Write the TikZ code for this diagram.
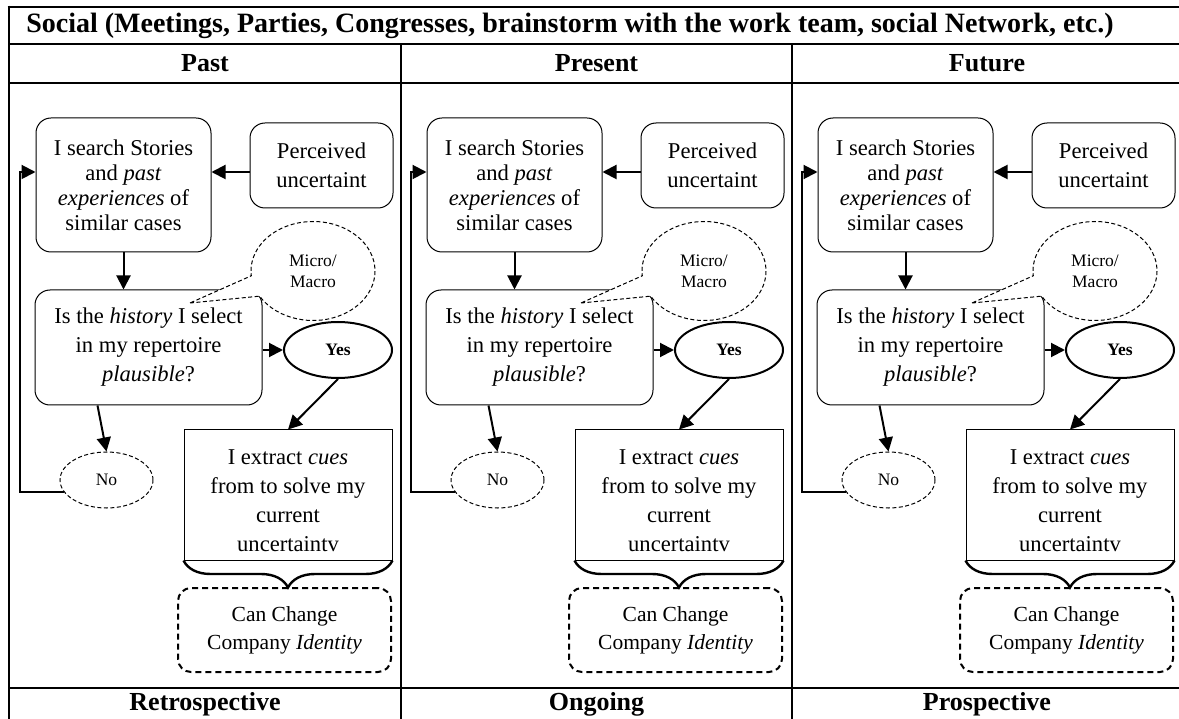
\documentclass[tikz,border=0pt]{standalone}
\usepackage{fontspec}
\setmainfont{Liberation Serif}
\usetikzlibrary{arrows.meta,shapes.geometric,shapes.callouts,decorations.pathreplacing}

\tikzset{
  rule/.style={line width=2.6pt},
  headtext/.style={font=\bfseries\fontsize{26}{30}\selectfont, inner sep=0pt},
  btext/.style={font=\fontsize{22.6}{29}\selectfont, align=center, inner sep=0pt},
  tighttext/.style={font=\fontsize{22.6}{25}\selectfont, align=center, inner sep=0pt},
  smalltext/.style={font=\fontsize{17.5}{21}\selectfont, align=center, inner sep=0pt},
  roundbox/.style={draw, line width=1pt, rounded corners=15pt},
  plainbox/.style={draw, line width=1pt},
  outcome/.style={draw, dash pattern=on 6pt off 4pt, line width=2pt, rounded corners=13pt},
  yesnode/.style={ellipse, draw, line width=2pt, smalltext, font=\bfseries\fontsize{17.5}{21}\selectfont},
  nonode/.style={ellipse, draw, dash pattern=on 4pt off 2.5pt, line width=1pt, smalltext},
  bubble/.style={ellipse callout, draw, dash pattern=on 4pt off 2.5pt, line width=1pt, fill=white,
    callout pointer arc=25, smalltext},
  flow/.style={line width=2pt, line join=miter, -{Triangle[length=14pt,width=14pt]}},
  bracebelow/.style={decorate, decoration={brace, mirror, amplitude=27pt}, line width=2.4pt},
}

% One sensemaking flow; #1 = name prefix, #2 = horizontal offset of the column
\newcommand{\flowpanel}[2]{%
\begin{scope}[xshift=#2]
  \coordinate (#1r) at (20,172);
  \coordinate (#1t) at (190,303);
  \node[roundbox, tighttext, minimum width=175, minimum height=134] (#1s) at (123.5,185)
    {I search Stories\\and \textit{past}\\\textit{experiences} of\\similar cases};
  \node[roundbox, btext, minimum width=143, minimum height=85] (#1p) at (321.5,165.5)
    {Perceived\\uncertaint};
  \node[roundbox, btext, minimum width=227, minimum height=115] (#1h) at (148.5,347.5)
    {Is the \textit{history} I select\\in my repertoire\\\textit{plausible}?};
  \node[bubble, minimum width=124, minimum height=99, callout absolute pointer={(#1t)}] (#1m)
    at (313,271) {Micro/\\Macro};
  \node[yesnode, minimum width=108, minimum height=56] (#1y) at (338,350) {Yes};
  \node[nonode, minimum width=93, minimum height=56] (#1n) at (106.5,480) {No};
  \node[plainbox, minimum width=208, minimum height=130] (#1x) at (288,495) {};
  \node[btext] (#1xt) at (288,501)
    {I extract \textit{cues}\\from to solve my\\current\\uncertaintv};
  \node[outcome, btext, font=\fontsize{21.5}{28}\selectfont, minimum width=213, minimum height=84] (#1c)
    at (284.5,630) {Can Change\\Company \textit{Identity}};
  % connectors
  \draw[flow] (#1p.west |- #1r) -- (#1s.east |- #1r);
  \draw[flow] (#1s.south) -- (#1s.south |- #1h.north);
  \draw[flow] (#1h.east |- #1y) -- (#1y.west);
  \draw[flow] (#1y.south) -- (#1x.north);
  \draw[flow] (#1h.south west) ++(63,0) coordinate (#1hn) -- (#1n.north);
  \draw[flow] (#1n.195) -| (#1r) -- (#1s.west |- #1r);
  \draw[bracebelow] (#1x.south west) -- (#1x.south east);
\end{scope}}

\begin{document}
\begin{tikzpicture}[x=1pt,y=-1pt]
  \useasboundingbox (0,0) rectangle (1179,719);
  \fill[white] (0,0) rectangle (1179,719);

  % table frame
  \draw[rule] (7.7,7) -- (1190,7);
  \draw[rule] (9,44) -- (1190,44);
  \draw[rule] (9,83) -- (1190,83);
  \draw[rule] (9,688) -- (1190,688);
  \draw[rule] (9,5.7) -- (9,730);
  \draw[rule] (401,44) -- (401,730);
  \draw[rule] (792,44) -- (792,730);

  % headings
  \node[headtext, font=\bfseries\fontsize{28}{30}\selectfont] (title) at (570,25.5)
    {Social (Meetings, Parties, Congresses, brainstorm with the work team, social Network, etc.)};
  \node[headtext] (past) at (205,63.5) {Past};
  \node[headtext] (present) at (596.5,63.5) {Present};
  \node[headtext] (future) at (987,63.5) {Future};
  \node[headtext] (retro) at (205,704) {Retrospective};
  \node[headtext] (ongoing) at (596.5,704) {Ongoing};
  \node[headtext] (prosp) at (987,704) {Prospective};

  % the three flows
  \flowpanel{a}{0}
  \flowpanel{b}{391}
  \flowpanel{c}{782}
\end{tikzpicture}
\end{document}
